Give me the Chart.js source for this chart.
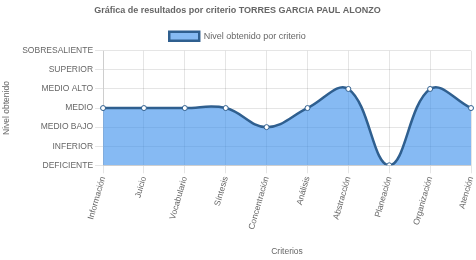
<!DOCTYPE html>
<html>
<head>
<meta charset="utf-8">
<script src="https://cdn.jsdelivr.net/npm/chart.js@4/dist/chart.umd.min.js"></script>
<style>
  html, body { margin: 0; padding: 0; background: #fff; }
  #wrap { width: 476px; height: 260px; }
</style>
</head>
<body>
<div id="wrap"><canvas id="chart"></canvas></div>
<script>
//Criteria on the x axis
const criterios = ["Información", "Juicio", "Vocabulario", "Síntesis", "Concentración", "Análisis", "Abstracción", "Planeación", "Organización", "Atención"];
//Level names, index = value on the y axis
const niveles = ["DEFICIENTE", "INFERIOR", "MEDIO BAJO", "MEDIO", "MEDIO ALTO", "SUPERIOR", "SOBRESALIENTE"];
//Level obtained per criterion
const nivelObtenido = [3, 3, 3, 3, 2, 3, 4, 0, 4, 3];

Chart.defaults.font.family = "'Liberation Sans', Arial, sans-serif";
Chart.defaults.font.size = 8.5;
Chart.defaults.color = "#666";

new Chart(document.getElementById("chart"), {
  type: "line",
  data: {
    labels: criterios,
    datasets: [
      {
        label: "Nivel obtenido por criterio",
        data: nivelObtenido,
        fill: true,
        backgroundColor: "rgba(54, 140, 235, 0.6)",
        borderColor: "#2f5f8f",
        borderWidth: 2.5,
        tension: 0.4,
        pointRadius: 2.5,
        pointBackgroundColor: "#fff",
        pointBorderColor: "#2f5f8f",
        pointBorderWidth: 1,
      },
    ],
  },
  options: {
    responsive: true,
    maintainAspectRatio: false,
    animation: false,
    layout: { padding: { left: 2, right: 3, top: 0, bottom: 3 } },
    plugins: {
      tooltip: { enabled: false },
      title: {
        display: true,
        text: "Gráfica de resultados por criterio TORRES GARCIA PAUL ALONZO",
        font: { size: 9, weight: "bold" },
        padding: { top: 5, bottom: 8 },
      },
      legend: {
        labels: { boxWidth: 30, boxHeight: 9, padding: 8, font: { size: 9 } },
      },
    },
    scales: {
      x: {
        grid: { color: "rgba(0,0,0,0.1)", tickLength: 8 },
        ticks: { minRotation: 74, maxRotation: 74, padding: 2 },
        title: { display: true, text: "Criterios", padding: { top: 14, bottom: 0 } },
        //let the last rotated label run to the edge like the original
        afterFit: (scale) => { scale.paddingRight = 0; },
      },
      y: {
        min: 0,
        max: 6,
        grid: { color: "rgba(0,0,0,0.1)", tickLength: 8 },
        ticks: { stepSize: 1, padding: 2, callback: (v) => niveles[v] },
        title: { display: true, text: "Nivel obtenido", padding: { top: 0, bottom: 8 } },
      },
    },
  },
});
</script>
</body>
</html>
